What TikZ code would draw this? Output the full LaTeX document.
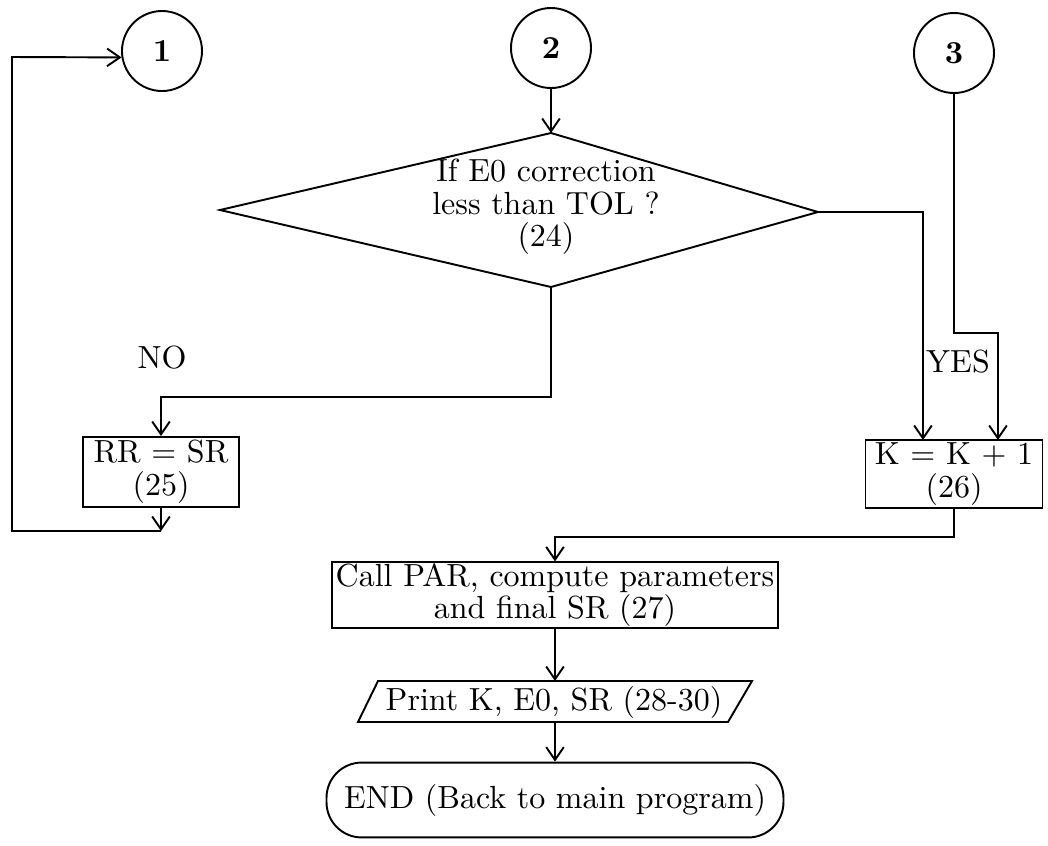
\documentclass[tikz,border=0pt]{standalone}
\usetikzlibrary{arrows.meta,calc}
\begin{document}
\begin{tikzpicture}[x=0.3125pt,y=-0.3125pt,
  line width=0.6pt,
  arr/.style={-{Straight Barb[length=4pt,width=5.5pt]}},
  txt/.style={font=\fontsize{10}{10.2}\selectfont, align=center, inner sep=0pt},
  conn/.style={draw, circle, minimum size=25pt, inner sep=0pt, font=\fontsize{10}{10}\selectfont\bfseries},
  procbox/.style={draw, rectangle, txt},
  lbl/.style={font=\fontsize{10}{10}\selectfont, inner sep=0pt}
]
\useasboundingbox (0,0) rectangle (1048,846);
% connectors (circles)
\node[conn] (c1) at (162,51) {1};
\node[conn] (c2) at (551,48) {2};
\node[conn] (c3) at (954,53) {3};
% decision
\coordinate (dtop) at (551,133);
\coordinate (dleft) at (220,210);
\coordinate (dright) at (818,212);
\coordinate (dbot) at (551,287);
\draw (dtop) -- (dright) -- (dbot) -- (dleft) -- cycle;
\node[txt] (dtext) at (546,207) {If E0 correction\\less than TOL ?\\(24)};
% process boxes
\node[procbox, minimum width=49pt, minimum height=21.9pt] (rr) at (161,472) {RR = SR\\(25)};
\node[procbox, minimum width=55.3pt, minimum height=21.25pt] (k) at (954,474) {K = K + 1\\(26)};
\node[procbox, line width=0.4pt, minimum width=139.4pt, minimum height=20.6pt] (call) at (555,595) {Call PAR, compute parameters\\and final SR (27)};
% output parallelogram
\coordinate (ptl) at (378,681);
\coordinate (ptr) at (752,681);
\coordinate (pbr) at (728,722);
\coordinate (pbl) at (358,722);
\draw (ptl) -- (ptr) -- (pbr) -- (pbl) -- cycle;
\node[txt] (pr) at (554,702) {Print K, E0, SR (28-30)};
\coordinate (prtop) at (555,681);
\coordinate (prbot) at (555,722);
% terminal
\node[draw, rounded corners=11pt, minimum width=142.8pt, minimum height=23.4pt, txt] (endn) at (555,800) {END (Back to main program)};
% labels
\node[lbl] (no) at (162,358) {NO};
\node[lbl] (yes) at (958,362) {YES};
% wiring
\coordinate (lb) at (161,531);
\coordinate (ll) at (12,531);
\coordinate (lt) at (12,57);
\draw[arr] (rr.south) -- (lb);
\draw[arr] (lb) -- (ll) -- (lt) -- (c1.189);
\draw[arr] (c2.south) -- (dtop);
\coordinate (nob) at (551,397);
\draw[arr] (dbot) -- (nob) -| (rr.north);
\coordinate (kin1) at (923,440);
\draw[arr] (dright) -| (kin1);
\coordinate (j3) at (954,333);
\coordinate (kin2) at (998,440);
\draw[arr] (c3.south) -- (j3) -| (kin2);
\coordinate (kb) at (954,537);
\draw[arr] (k.south) -- (kb) -| (call.north);
\draw[arr] (call.south) -- (prtop);
\draw[arr] (prbot) -- (endn.north);
\end{tikzpicture}
\end{document}
